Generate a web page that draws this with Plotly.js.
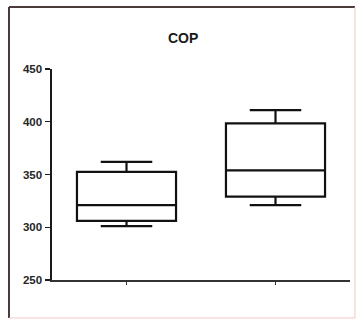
<!DOCTYPE html>
<html>
<head>
<meta charset="utf-8">
<script src="https://cdn.plot.ly/plotly-3.0.1.min.js"></script>
<style>html,body{margin:0;padding:0;background:#fff;}#chart{width:359px;height:320px;}</style>
</head>
<body>
<div id="chart"></div>
<script>
var categories = ["A", "B"];
var lowerFence = [301, 321];
var q1Values = [306, 329];
var medianValues = [321, 354];
var q3Values = [352.5, 398.5];
var upperFence = [362, 411];
var yTicks = [250, 300, 350, 400, 450];

var trace = {
  type: "box",
  x: categories,
  lowerfence: lowerFence,
  q1: q1Values,
  median: medianValues,
  q3: q3Values,
  upperfence: upperFence,
  fillcolor: "#ffffff",
  line: {color: "#111111", width: 2.2},
  whiskerwidth: 0.52,
  width: 0.665,
  boxpoints: false,
  hoverinfo: "none"
};

var layout = {
  width: 359, height: 320,
  margin: {l: 52, r: 9, t: 69, b: 40},
  paper_bgcolor: "#ffffff",
  plot_bgcolor: "#ffffff",
  showlegend: false,
  title: {text: "<b>COP</b>", x: 0.51, xanchor: "center", y: 1 - 38/320, yanchor: "middle",
          font: {family: "Liberation Sans, Arial, sans-serif", size: 14, color: "#1a1a1a"}},
  xaxis: {
    range: [-0.5, 1.5], showgrid: false, zeroline: false,
    showline: true, linecolor: "#333333", linewidth: 1.8,
    ticks: "outside", ticklen: 3, tickwidth: 1.2, tickcolor: "#333333",
    showticklabels: false, fixedrange: true
  },
  yaxis: {
    range: [250, 450], tickvals: yTicks, ticktext: yTicks.map(String),
    showgrid: false, zeroline: false,
    showline: true, linecolor: "#1a1a1a", linewidth: 1.6,
    ticks: "outside", ticklen: 5, tickwidth: 1.4, tickcolor: "#1a1a1a",
    tickfont: {family: "Liberation Sans, Arial, sans-serif", size: 11.5, color: "#262626", weight: "bold"},
    ticklabelstandoff: 1, fixedrange: true
  },
  shapes: [
    {type: "line", xref: "paper", yref: "paper", x0: -0.1443, x1: -0.1443, y0: -0.18, y1: 1.294,
     line: {color: "#4a3a3a", width: 2}},
    {type: "line", xref: "paper", yref: "paper", x0: -0.1443, x1: 1.0168, y0: 1.294, y1: 1.294,
     line: {color: "#4a3a3a", width: 2}},
    {type: "line", xref: "paper", yref: "paper", x0: 1.0168, x1: 1.0168, y0: -0.18, y1: 1.294,
     line: {color: "#f2c8c8", width: 1}},
    {type: "line", xref: "paper", yref: "paper", x0: -0.1443, x1: 1.0168, y0: -0.18, y1: -0.18,
     line: {color: "#f2c8c8", width: 1}}
  ]
};

Plotly.newPlot("chart", [trace], layout, {displayModeBar: false, staticPlot: true});
</script>
</body>
</html>
